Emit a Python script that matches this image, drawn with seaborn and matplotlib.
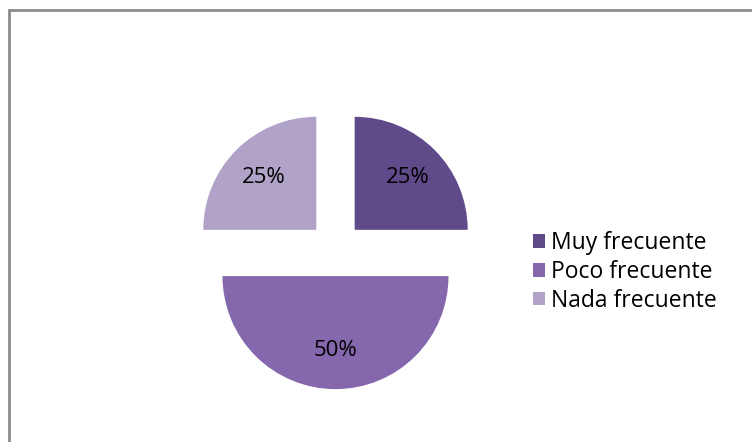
import matplotlib
matplotlib.use("Agg")
import matplotlib.pyplot as plt
from matplotlib.patches import Rectangle
import seaborn as sns

labels = ["Muy frecuente", "Poco frecuente", "Nada frecuente"]
values = [25, 50, 25]
colors = ["#5f4a8a", "#8567ad", "#b1a2c8"]

sns.set_theme(style="white")
plt.rcParams["font.family"] = ["Open Sans", "DejaVu Sans"]

fig = plt.figure(figsize=(7.52, 4.42), dpi=100)
ax = fig.add_axes([0, 0, 1, 1])

# 1 data unit = radius of pie in pixels
r_px = 113.0
cx, cy = 335.5, 442 - 249
wedges, texts, autotexts = ax.pie(
    values,
    colors=colors,
    startangle=90,
    counterclock=False,
    explode=[0.24, 0.24, 0.24],
    autopct="%1.0f%%",
    pctdistance=0.66,
    textprops={"fontsize": 16, "color": "black"},
    wedgeprops={"linewidth": 0},
)
ax.set_xlim(-cx / r_px, (752 - cx) / r_px)
ax.set_ylim(-cy / r_px, (442 - cy) / r_px)
ax.set_aspect("auto")
ax.axis("off")

# chart frame (only top and left edges visible)
fig.patches.append(Rectangle((8.5 / 752, -0.1), 1.2, (442 - 9.5) / 442 + 0.1,
                             transform=fig.transFigure, fill=False,
                             edgecolor="#8c8c8c", linewidth=2))

leg = fig.legend(
    wedges, labels,
    loc="center left",
    bbox_to_anchor=(512 / 752, 1 - 272 / 442),
    frameon=False,
    fontsize=16.5,
    labelcolor="black",
    handlelength=0.55,
    handleheight=0.55,
    handletextpad=0.25,
    labelspacing=0.2,
)

fig.savefig("out.png", dpi=100)
